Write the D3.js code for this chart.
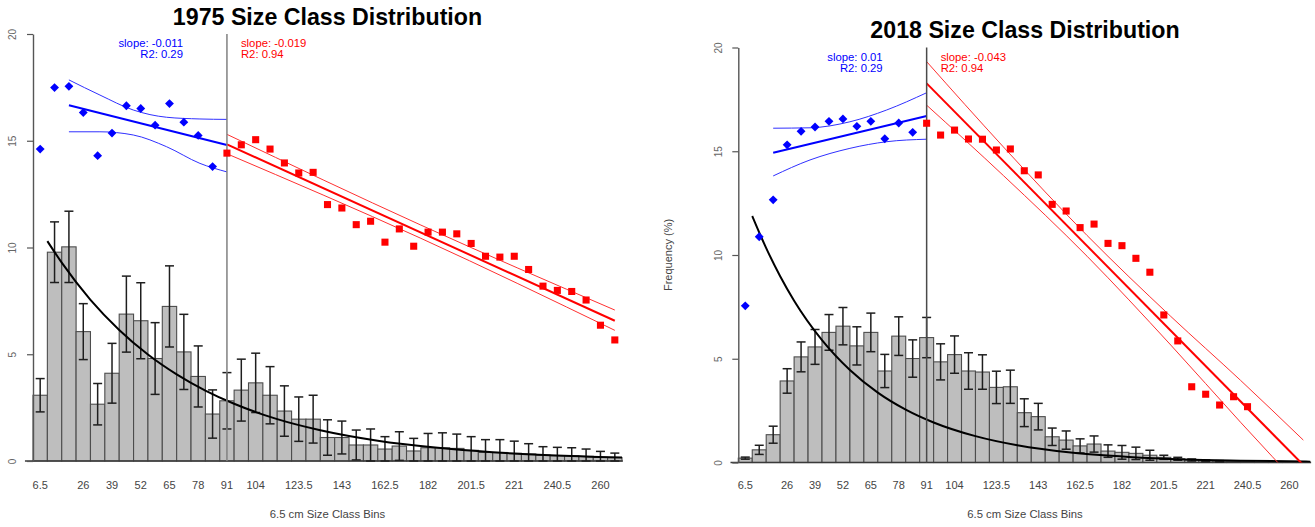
<!DOCTYPE html>
<html><head><meta charset="utf-8">
<script src="https://cdn.jsdelivr.net/npm/d3@7"></script>
<style>
body{margin:0;background:#fff}
svg{display:block}
text{font-family:"Liberation Sans",Arial,Helvetica,sans-serif}
</style>
</head><body>
<svg id="chart" width="1315" height="527"></svg>
<script>
// ---------- DATA ----------
const bins = ["6.5","13","19.5","26","32.5","39","45.5","52","58.5","65","71.5","78","84.5","91","97.5","104","110.5","117","123.5","130","136.5","143","149.5","156","162.5","169","175.5","182","188.5","195","201.5","208","214.5","221","227.5","234","240.5","247","253.5","260","266.5"];
const tickLabels = ["6.5","26","39","52","65","78","91","104","123.5","143","162.5","182","201.5","221","240.5","260"];
const yTicks = [0,5,10,15,20];

// 1975
const freq1975 = [3.08,9.78,10.03,6.06,2.66,4.11,6.88,6.57,4.8,7.24,5.11,3.96,2.2,2.82,3.32,3.66,3.08,2.34,1.96,1.96,1.1,1.1,0.75,0.75,0.56,0.7,0.47,0.62,0.62,0.59,0.5,0.4,0.4,0.36,0.33,0.28,0.25,0.25,0.22,0.17,0.16];
const err1975 = [0.78,1.42,1.67,1.31,0.97,1.4,1.78,1.78,1.68,1.9,1.76,1.43,1.13,1.32,1.45,1.39,1.34,1.18,1.04,1.12,0.83,0.77,0.7,0.75,0.58,0.67,0.59,0.67,0.7,0.67,0.64,0.6,0.6,0.57,0.48,0.39,0.39,0.37,0.34,0.28,0.21];
const blue1975 = [14.61,17.49,17.55,16.32,14.3,15.36,16.64,16.51,15.73,16.74,15.87,15.25,13.79];
const red1975 = [14.42,14.81,15.05,14.61,13.96,13.49,13.52,12.01,11.85,11.07,11.23,10.25,10.87,10.06,10.72,10.72,10.64,10.19,9.59,9.55,9.59,8.97,8.19,7.99,7.94,7.54,6.36,5.67];
const expCurve1975 = [[1,10.3],[2,9.29],[4,7.55],[6,6.14],[8,4.99],[10,4.06],[12,3.30],[14,2.68],[17,1.96],[20,1.44],[24,0.95],[28,0.63],[32,0.41],[36,0.27],[41,0.16]];
const blueFit1975 = [[2.5,16.66],[13.5,14.80]];
const blueUpper1975 = [[2.5,17.85],[4.66,17.14],[6.98,16.44],[9.3,16.1],[11.62,16.02],[13.5,16.0]];
const blueLower1975 = [[2.5,15.42],[4.66,15.42],[6.98,15.27],[9.3,14.72],[11.62,13.94],[13.5,13.54]];
const redFit1975 = [[13.5,14.83],[40.5,6.57]];
const redUpper1975 = [[13.5,15.30],[27,11.05],[40.5,7.07]];
const redLower1975 = [[13.5,14.39],[27,10.43],[40.5,6.12]];
const notes1975 = ["slope: -0.011","R2: 0.29","slope: -0.019","R2: 0.94"];

// 2018
const freq2018 = [0.21,0.61,1.34,3.93,5.09,5.57,6.27,6.57,5.62,6.27,4.41,6.09,5.01,6.02,4.85,5.2,4.41,4.36,3.62,3.65,2.4,2.21,1.24,1.08,0.8,0.89,0.55,0.49,0.44,0.35,0.25,0.18,0.12,0.08,0.06,0.05,0.04,0.02,0.02,0.01,0.01];
const err2018 = [0.05,0.22,0.41,0.59,0.72,0.84,0.86,0.9,0.92,0.93,0.8,0.93,0.9,0.97,0.87,0.9,0.88,0.83,0.78,0.8,0.67,0.64,0.42,0.44,0.34,0.39,0.3,0.33,0.3,0.24,0.1,0.07,0.05,0.04,0.03,0.02,0.02,0,0,0,0];
const blue2018 = [7.55,10.88,12.66,15.31,15.96,16.17,16.44,16.56,16.2,16.44,15.6,16.36,15.91];
const red2018 = [16.35,15.78,16.02,15.59,15.58,15.06,15.11,14.06,13.86,12.44,12.12,11.32,11.49,10.56,10.45,9.84,9.17,7.11,5.86,3.65,3.29,2.77,3.17,2.69];
const expCurve2018 = [[1,11.88],[2,10.33],[3,8.98],[4,7.80],[6,5.90],[8,4.46],[10,3.37],[12,2.55],[14,1.93],[17,1.27],[20,0.83],[24,0.47],[28,0.27],[32,0.15],[36,0.09],[41,0.04]];
const blueFit2018 = [[2.5,14.93],[13.5,16.70]];
const blueUpper2018 = [[2.5,16.11],[5.14,16.13],[8,16.42],[10.64,16.99],[13.5,17.82]];
const blueLower2018 = [[2.5,13.81],[5.14,14.58],[8,15.14],[10.64,15.46],[13.5,15.58]];
const redFit2018 = [[13.5,18.27],[40.5,-0.12]];
const redUpper2018 = [[13.5,19.32],[19,15.21],[25,10.94],[31,7.04],[36,3.96],[40.5,1.08]];
const redLower2018 = [[13.5,17.22],[19,13.83],[25,9.94],[31,5.66],[36,1.94],[40.5,-1.32]];
const notes2018 = ["slope: 0.01","R2: 0.29","slope: -0.043","R2: 0.94"];

const titles = ["1975 Size Class Distribution","2018 Size Class Distribution"];
const xTitle = "6.5 cm Size Class Bins";
const yTitle = "Frequency (%)";
const splitBin = "91";

// ---------- DRAW ----------
const svg = d3.select("#chart");
const BLUE = "#0000ff", RED = "#ff0000";

function panel(cfg){
  const g = svg.append("g");
  const x = d3.scaleBand().domain(bins).range([cfg.left, cfg.right]).padding(0);
  const u = d3.scaleLinear().domain([0, bins.length]).range([cfg.left, cfg.right]);
  const y = d3.scaleLinear().domain([0, 20]).range([cfg.bottom, cfg.top]);
  const cx = b => x(b) + x.bandwidth()/2;
  const clipId = "clip" + cfg.id;
  svg.append("clipPath").attr("id", clipId).append("rect")
    .attr("x", u(-1)).attr("y", cfg.top - 30)
    .attr("width", u(bins.length + 1) - u(-1)).attr("height", cfg.bottom - cfg.top + 30);

  // title
  g.append("text").attr("x", cfg.titleX).attr("y", cfg.titleY)
    .attr("text-anchor", "middle").attr("font-size", 23.2).attr("font-weight", "bold")
    .attr("fill", "#000").text(cfg.title);

  // bars
  g.append("g").selectAll("rect").data(cfg.freq).join("rect")
    .attr("x", (d,i) => x(bins[i])).attr("y", d => y(d))
    .attr("width", x.bandwidth()).attr("height", d => y(0) - y(d))
    .attr("fill", "#bebebe").attr("stroke", "#4d4d4d").attr("stroke-width", 1.1);

  // baseline
  g.append("line").attr("x1", u(-0.56)).attr("x2", u(41.06))
    .attr("y1", y(0)).attr("y2", y(0)).attr("stroke", "#3a3a3a").attr("stroke-width", 1.6);

  // error bars
  const eb = g.append("g").attr("stroke", "#1e1e1e").attr("stroke-width", 1.5).attr("fill", "none");
  cfg.freq.forEach((v, i) => {
    const e = cfg.err[i];
    if (e < 0.03) return;
    const xc = cx(bins[i]);
    const lo = y(Math.max(0, v - e)), hi = y(v + e);
    eb.append("line").attr("x1", xc).attr("x2", xc).attr("y1", lo).attr("y2", hi);
    eb.append("line").attr("x1", xc - 4.5).attr("x2", xc + 4.5).attr("y1", hi).attr("y2", hi);
    eb.append("line").attr("x1", xc - 4.5).attr("x2", xc + 4.5).attr("y1", lo).attr("y2", lo);
  });

  const line = d3.line().x(d => u(d[0])).y(d => y(d[1])).curve(d3.curveMonotoneX);
  const cg = g.append("g").attr("clip-path", `url(#${clipId})`).attr("fill", "none");

  // exponential trend
  cg.append("path").attr("d", line(cfg.exp)).attr("stroke", "#000").attr("stroke-width", 2);

  // vertical split line
  g.append("line").attr("x1", cx(splitBin)).attr("x2", cx(splitBin))
    .attr("y1", y(20)).attr("y2", y(0)).attr("stroke", cfg.splitColor).attr("stroke-width", 1.5);

  // regression lines + bands
  cg.append("path").attr("d", line(cfg.blueUpper)).attr("stroke", "#3030ff").attr("stroke-width", 1);
  cg.append("path").attr("d", line(cfg.blueLower)).attr("stroke", "#3030ff").attr("stroke-width", 1);
  cg.append("path").attr("d", line(cfg.blueFit)).attr("stroke", BLUE).attr("stroke-width", 2);
  cg.append("path").attr("d", line(cfg.redUpper)).attr("stroke", "#ff3030").attr("stroke-width", 1);
  cg.append("path").attr("d", line(cfg.redLower)).attr("stroke", "#ff3030").attr("stroke-width", 1);
  cg.append("path").attr("d", line(cfg.redFit)).attr("stroke", RED).attr("stroke-width", 2);

  // points
  const diamond = d3.symbol(d3.symbolDiamond2, 50);
  const square = d3.symbol(d3.symbolSquare, 50);
  g.append("g").selectAll("path").data(cfg.blue).join("path")
    .attr("d", diamond).attr("fill", BLUE)
    .attr("transform", (d,i) => `translate(${cx(bins[i])},${y(d)})`);
  const redStart = bins.indexOf(splitBin);
  g.append("g").selectAll("path").data(cfg.red).join("path")
    .attr("d", square).attr("fill", RED)
    .attr("transform", (d,i) => `translate(${cx(bins[i + redStart])},${y(d)})`);

  // annotations
  const ax = cx(splitBin);
  const nt = g.append("g").attr("font-size", 11.3);
  nt.append("text").attr("x", ax - 44).attr("y", cfg.note1Y).attr("text-anchor", "end").attr("fill", BLUE).text(cfg.notes[0]);
  nt.append("text").attr("x", ax - 44).attr("y", cfg.note2Y).attr("text-anchor", "end").attr("fill", BLUE).text(cfg.notes[1]);
  nt.append("text").attr("x", ax + 14).attr("y", cfg.note1Y).attr("text-anchor", "start").attr("fill", RED).text(cfg.notes[2]);
  nt.append("text").attr("x", ax + 14).attr("y", cfg.note2Y).attr("text-anchor", "start").attr("fill", RED).text(cfg.notes[3]);

  // y axis
  const ya = g.append("g").attr("transform", `translate(${cfg.left},0)`)
    .call(d3.axisLeft(y).tickValues(yTicks).tickSize(6).tickSizeOuter(0).tickPadding(0));
  ya.select(".domain").attr("stroke", "#555").attr("stroke-width", 1.4);
  ya.selectAll(".tick line").attr("stroke", "#555").attr("stroke-width", 1.2);
  ya.selectAll(".tick text")
    .attr("x", null).attr("dy", "0.35em").attr("text-anchor", "middle")
    .attr("transform", `translate(${cfg.yLabelX - cfg.left},0) rotate(-90)`)
    .attr("font-size", 10).attr("fill", "#666")
    .attr("font-family", '"Liberation Sans",Arial,sans-serif');

  // x tick labels
  g.append("g").selectAll("text").data(tickLabels).join("text")
    .attr("x", d => cx(d)).attr("y", 489).attr("text-anchor", "middle")
    .attr("font-size", 11).attr("fill", "#444").text(d => d);

  // x title
  g.append("text").attr("x", cfg.titleX).attr("y", 518).attr("text-anchor", "middle")
    .attr("font-size", 11.3).attr("fill", "#444").text(xTitle);

  if (cfg.showYTitle) {
    g.append("text").attr("transform", `translate(${cfg.yTitleX},255) rotate(-90)`)
      .attr("text-anchor", "middle").attr("dy", "0.35em")
      .attr("font-size", 11).attr("fill", "#444").text(yTitle);
  }
}

panel({id:"a", left:33, right:622, top:34, bottom:461, title:titles[0], titleX:327.5, titleY:25,
  freq:freq1975, err:err1975, blue:blue1975, red:red1975, exp:expCurve1975,
  blueFit:blueFit1975, blueUpper:blueUpper1975, blueLower:blueLower1975,
  redFit:redFit1975, redUpper:redUpper1975, redLower:redLower1975,
  notes:notes1975, note1Y:47, note2Y:58, yLabelX:12, splitColor:"#808080", showYTitle:false});

panel({id:"b", left:738.3, right:1310.3, top:47.5, bottom:462.5, title:titles[1], titleX:1025, titleY:37.5,
  freq:freq2018, err:err2018, blue:blue2018, red:red2018, exp:expCurve2018,
  blueFit:blueFit2018, blueUpper:blueUpper2018, blueLower:blueLower2018,
  redFit:redFit2018, redUpper:redUpper2018, redLower:redLower2018,
  notes:notes2018, note1Y:61, note2Y:71.5, yLabelX:718, splitColor:"#4a4a4a", showYTitle:true, yTitleX:668});
</script>
</body></html>
